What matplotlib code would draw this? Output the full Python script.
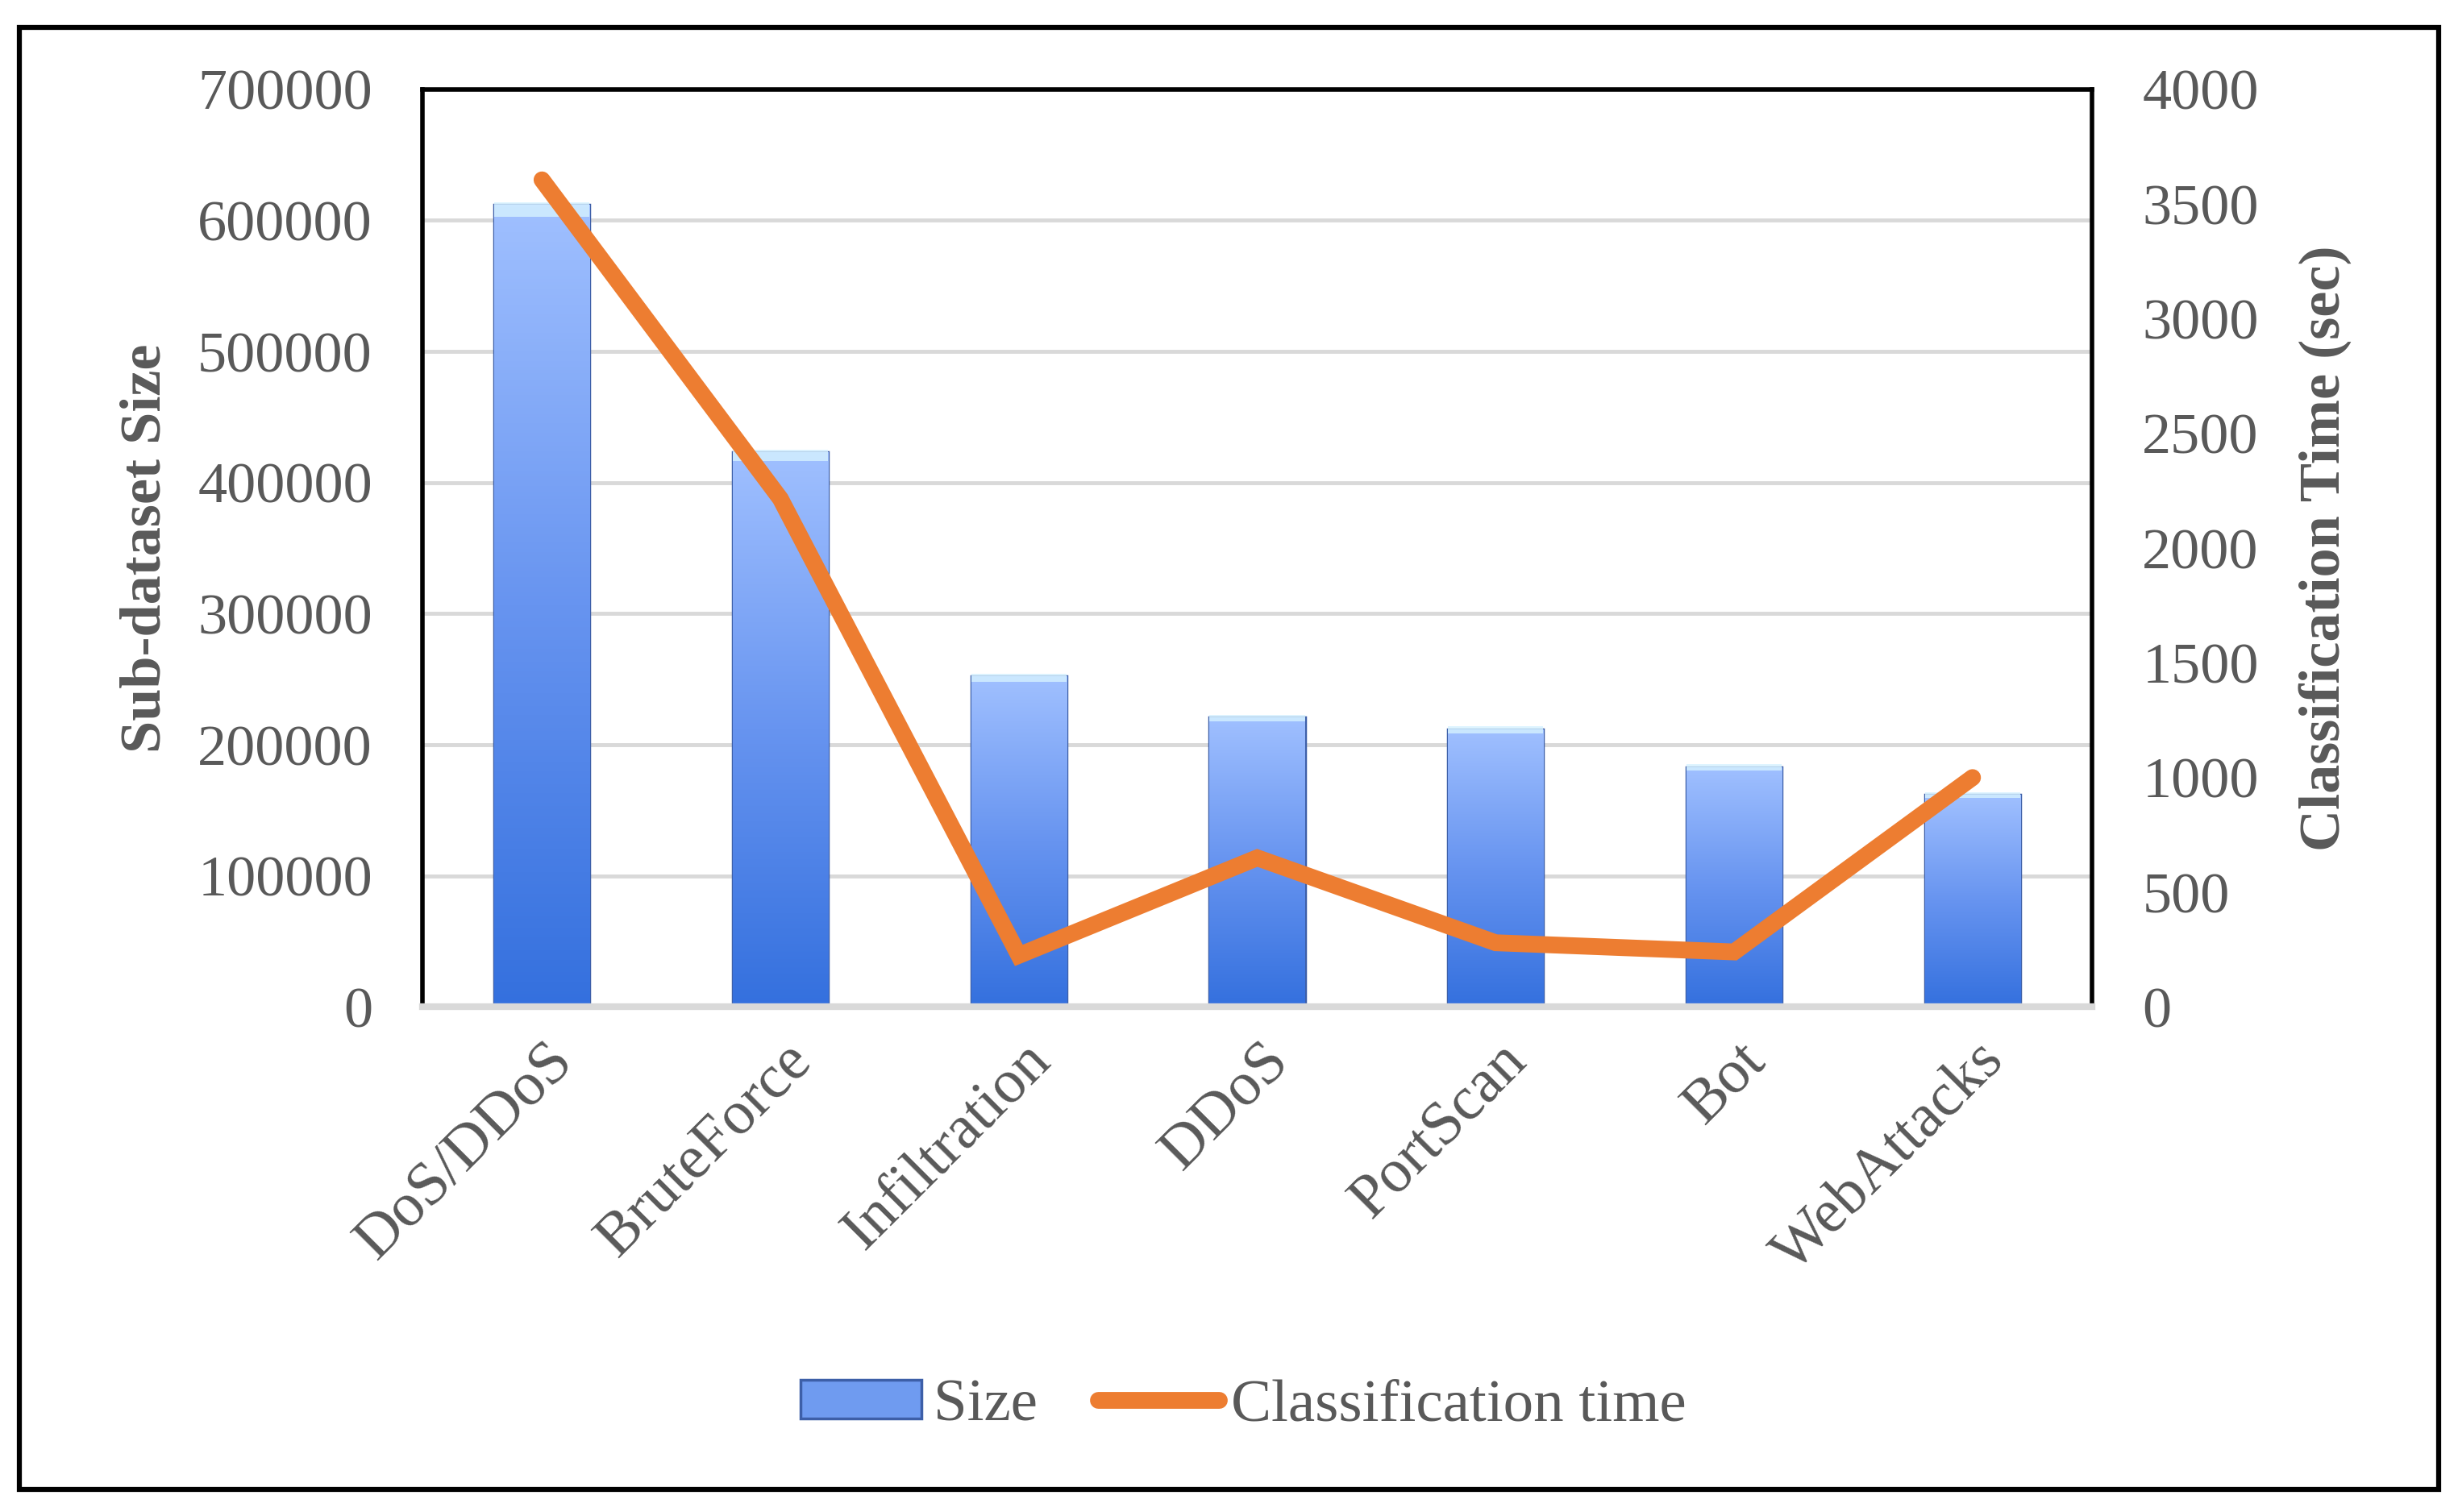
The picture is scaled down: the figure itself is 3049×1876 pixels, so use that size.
import numpy as np
import matplotlib
matplotlib.use("Agg")
import matplotlib.pyplot as plt
import matplotlib.transforms as mtransforms
from matplotlib.patches import Patch, Rectangle
from matplotlib.lines import Line2D
from matplotlib.colors import LinearSegmentedColormap

categories = ["DoS/DDoS", "BruteForce", "Infiltration", "DDoS", "PortScan", "Bot", "WebAttacks"]
sizes = [612000, 423000, 252000, 221000, 212000, 183000, 162000]
class_time = [3605, 2215, 225, 650, 280, 240, 1000]

left_ticks = [0, 100000, 200000, 300000, 400000, 500000, 600000, 700000]
right_ticks = [0, 500, 1000, 1500, 2000, 2500, 3000, 3500, 4000]

plt.rcParams['font.family'] = ['Liberation Serif', 'DejaVu Serif']
grey_txt = '#595959'
FS = 52

fig = plt.figure(figsize=(30.49, 18.76), dpi=100)
ax = fig.add_axes([0.172, 0.334, 0.679, 0.607])
ax2 = ax.twinx()

x = np.arange(len(categories))
bw = 0.4
bars = ax.bar(x, sizes, width=bw, color='#6F9BF0', edgecolor='#3D5FA8', linewidth=2.5, zorder=2)

# vertical gradient in each bar, light on top
cmap = LinearSegmentedColormap.from_list('bargrad', ['#3470DE', '#6794F0', '#A0C0FF'])
grad = np.linspace(0, 1, 256).reshape(-1, 1)
for b in bars:
    x0, w, h = b.get_x(), b.get_width(), b.get_height()
    im = ax.imshow(grad, extent=[x0, x0 + w, 0, h], origin='lower', aspect='auto',
                   cmap=cmap, zorder=2.1)
    im.set_clip_path(b)
    ax.add_patch(Rectangle((x0, h * 0.985), w, h * 0.015 + 2000, facecolor='#D6F2FF',
                           edgecolor='none', alpha=0.8, zorder=2.2))

ax.set_xlim(-0.5, len(categories) - 0.5)
ax.set_ylim(0, 700000)
ax.set_yticks(left_ticks)
ax.set_yticklabels([str(t) for t in left_ticks])
ax.set_xticks(x)
ax.set_xticklabels(categories, rotation=45, ha='right', va='center', rotation_mode='anchor')
ax.tick_params(axis='x', length=0, pad=40, labelsize=55, labelcolor=grey_txt)
ax.tick_params(axis='y', length=0, pad=45, labelsize=FS, labelcolor=grey_txt)
shift = mtransforms.ScaledTranslation(0.28, 0, fig.dpi_scale_trans)
for lab in ax.get_xticklabels():
    lab.set_transform(lab.get_transform() + shift)

ax.set_axisbelow(True)
ax.yaxis.grid(True, color='#D9D9D9', linewidth=3.5)
ax.xaxis.grid(False)

for s in ['left', 'top', 'right']:
    ax.spines[s].set_color('black')
    ax.spines[s].set_linewidth(4)
ax.spines['bottom'].set_color('#D9D9D9')
ax.spines['bottom'].set_linewidth(6)

ax.set_ylabel('Sub-dataset Size', fontsize=FS, fontweight='bold', color=grey_txt)
ax.yaxis.set_label_coords(-0.150, 0.5)

ax2.plot(x, class_time, color='#ED7D31', linewidth=15, solid_joinstyle='miter',
         solid_capstyle='round', zorder=3)
ax2.set_ylim(0, 4000)
ax2.set_yticks(right_ticks)
ax2.set_yticklabels([str(t) for t in right_ticks])
ax2.tick_params(axis='y', length=0, pad=45, labelsize=FS, labelcolor=grey_txt)
for s in ax2.spines.values():
    s.set_visible(False)
ax2.set_ylabel('Classification Time (sec)', fontsize=FS, fontweight='bold', color=grey_txt)
ax2.yaxis.set_label_coords(1.124, 0.5)

handles = [Patch(facecolor='#6F9BF0', edgecolor='#3D5FA8', linewidth=2.5),
           Line2D([], [], color='#ED7D31', linewidth=15, solid_capstyle='round')]
fig.legend(handles, ['Size', 'Classification time'], loc='center',
           bbox_to_anchor=(0.506, 0.07), ncol=2, frameon=False, fontsize=54,
           labelcolor=grey_txt, handlelength=2.0, handleheight=0.6,
           handletextpad=0.2, columnspacing=1.0)

fig.add_artist(Rectangle((0.008, 0.015), 0.984, 0.967, transform=fig.transFigure,
                         fill=False, edgecolor='black', linewidth=4.5))

fig.savefig('out.png', dpi=100)
